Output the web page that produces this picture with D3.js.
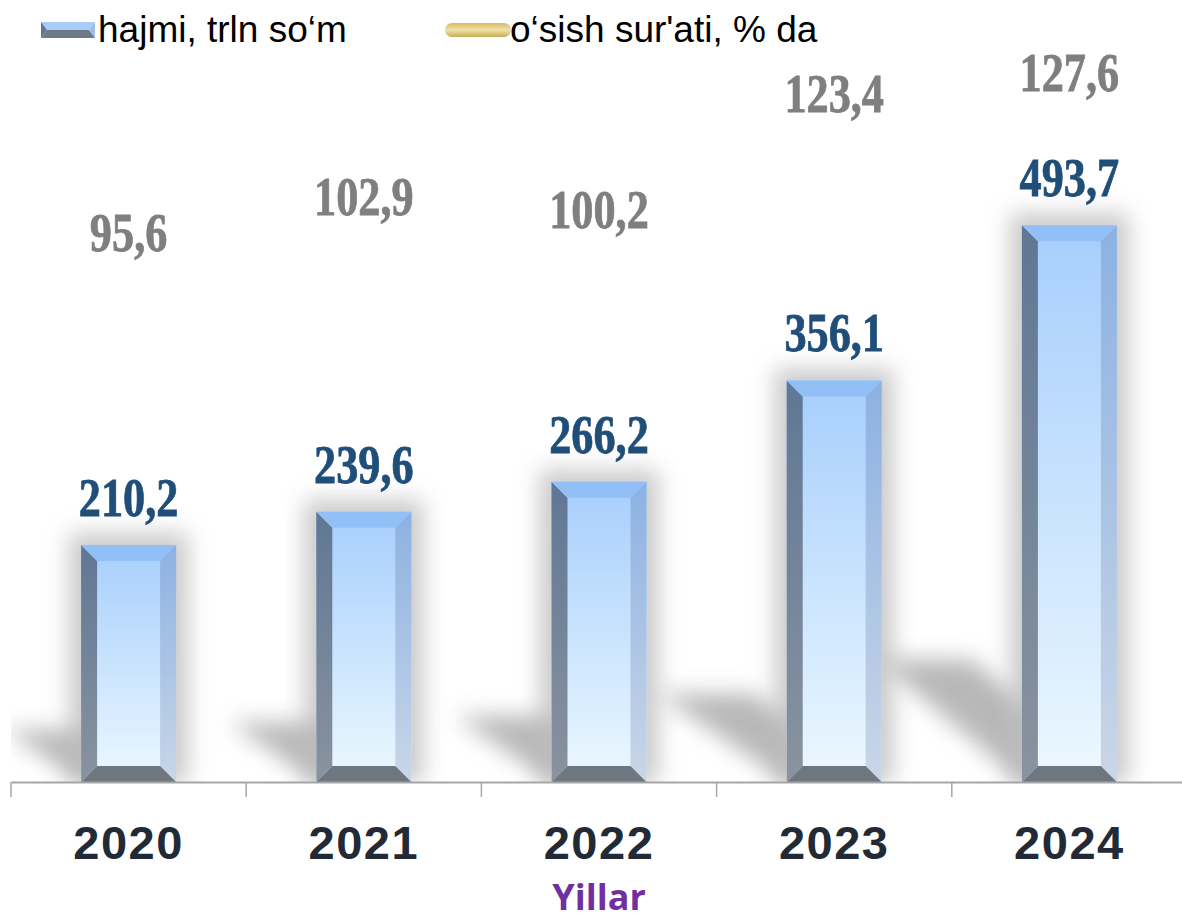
<!DOCTYPE html>
<html lang="uz">
<head>
<meta charset="UTF-8">
<title>hajmi, trln so'm</title>
<script src="https://cdn.jsdelivr.net/npm/d3@7"></script>
<style>
  html, body { margin: 0; padding: 0; background: #fff; }
  svg { display: block; }
</style>
</head>
<body>
<div id="chart"></div>
<script>
// chart data
var years = ["2020", "2021", "2022", "2023", "2024"];
var volume = [210.2, 239.6, 266.2, 356.1, 493.7];     // hajmi, trln so'm
var growth = [95.6, 102.9, 100.2, 123.4, 127.6];      // o'sish sur'ati, % da
var legendLabels = ["hajmi, trln so\u2018m", "o\u2018sish sur'ati, % da"];
var axisTitle = "Yillar";

var W = 1182, H = 923;
var base = 782;

var svg = d3.select("#chart").append("svg")
  .attr("width", W)
  .attr("height", H);

var defs = svg.append("defs");

// scales
var x = d3.scaleBand().domain(years).range([11, 1187]).paddingInner(0).paddingOuter(0);
var y = d3.scaleLinear().domain([0, 600]).range([base, base - 676.5]);
var yGrowth = d3.scaleLinear().domain([80, 140]).range([329, 29]);

var barW = 95, bev = 16;

// gradients
function vgrad(id, c1, c2) {
  var g = defs.append("linearGradient").attr("id", id)
    .attr("x1", 0).attr("y1", 0).attr("x2", 0).attr("y2", 1);
  g.append("stop").attr("offset", "0%").attr("stop-color", c1);
  g.append("stop").attr("offset", "100%").attr("stop-color", c2);
}
vgrad("face", "#a6cefc", "#ecf8ff");
vgrad("leftBev", "#5f7795", "#8a939f");
vgrad("rightBev", "#8cb1e2", "#c9d6e7");
var lg = defs.append("linearGradient").attr("id", "gold")
  .attr("x1", 0).attr("y1", 0).attr("x2", 0).attr("y2", 1);
lg.append("stop").attr("offset", "0%").attr("stop-color", "#d6bb62");
lg.append("stop").attr("offset", "50%").attr("stop-color", "#efe2a8");
lg.append("stop").attr("offset", "100%").attr("stop-color", "#c9ad55");

defs.append("filter").attr("id", "blurS")
  .attr("x", "-50%").attr("y", "-50%").attr("width", "200%").attr("height", "200%")
  .append("feGaussianBlur").attr("stdDeviation", 11);
defs.append("filter").attr("id", "blurG")
  .attr("x", "-50%").attr("y", "-50%").attr("width", "200%").attr("height", "200%")
  .append("feGaussianBlur").attr("stdDeviation", 11);

defs.append("clipPath").attr("id", "plotClip")
  .append("rect").attr("x", 11).attr("y", 0).attr("width", W).attr("height", base);

var plot = svg.append("g").attr("clip-path", "url(#plotClip)");

// cast shadows (behind bars, going back-left)
plot.append("g").selectAll("path")
  .data(volume)
  .enter().append("path")
  .attr("d", function(d, i) {
    var bx = x(years[i]) + (x.bandwidth() - barW) / 2;
    var h = base - y(d);
    var dx = -Math.min(0.32 * h, 145), dy = -0.22 * h;
    return "M" + bx + "," + base + "L" + (bx + barW) + "," + base +
      "L" + (bx + barW + dx) + "," + (base + dy) +
      "L" + (bx + dx) + "," + (base + dy) + "Z";
  })
  .attr("fill", "#a0a0a0")
  .attr("opacity", 0.75)
  .attr("filter", "url(#blurS)");

// glow halo around bars
plot.append("g").selectAll("rect")
  .data(volume)
  .enter().append("rect")
  .attr("x", (d, i) => x(years[i]) + (x.bandwidth() - barW) / 2 - 12)
  .attr("y", d => y(d) - 12)
  .attr("width", barW + 24)
  .attr("height", d => base - y(d) + 12)
  .attr("fill", "#bdbdbd")
  .attr("opacity", 0.8)
  .attr("filter", "url(#blurG)");

// bevelled bars
var bars = plot.append("g").selectAll("g")
  .data(volume)
  .enter().append("g")
  .attr("transform", (d, i) => "translate(" + (x(years[i]) + (x.bandwidth() - barW) / 2) + ",0)");

bars.append("rect")
  .attr("x", 0).attr("y", d => y(d))
  .attr("width", barW).attr("height", d => base - y(d))
  .attr("fill", "url(#face)");
bars.append("path") // left bevel
  .attr("d", d => "M0," + y(d) + "L" + bev + "," + (y(d) + bev) + "L" + bev + "," + (base - bev) + "L0," + base + "Z")
  .attr("fill", "url(#leftBev)");
bars.append("path") // right bevel
  .attr("d", d => "M" + barW + "," + y(d) + "L" + (barW - bev) + "," + (y(d) + bev) + "L" + (barW - bev) + "," + (base - bev) + "L" + barW + "," + base + "Z")
  .attr("fill", "url(#rightBev)");
bars.append("path") // top bevel
  .attr("d", d => "M0," + y(d) + "L" + barW + "," + y(d) + "L" + (barW - bev) + "," + (y(d) + bev) + "L" + bev + "," + (y(d) + bev) + "Z")
  .attr("fill", "#93bff7");
bars.append("path") // bottom bevel
  .attr("d", "M0," + base + "L" + barW + "," + base + "L" + (barW - bev) + "," + (base - bev) + "L" + bev + "," + (base - bev) + "Z")
  .attr("fill", "#6e7680");

// x axis
var xAxis = svg.append("g")
  .attr("transform", "translate(0," + base + ")")
  .call(d3.axisBottom(x).tickSize(0).tickFormat(""));
xAxis.select(".domain").attr("stroke", "#a6a6a6").attr("stroke-width", 2);
xAxis.selectAll(".tick").remove();
xAxis.selectAll(".sep")
  .data(d3.range(years.length + 1))
  .enter().append("line")
  .attr("class", "sep")
  .attr("x1", i => 11 + i * x.step()).attr("x2", i => 11 + i * x.step())
  .attr("y1", 0).attr("y2", 15)
  .attr("stroke", "#a6a6a6").attr("stroke-width", 1.5);

svg.append("g").selectAll("text")
  .data(years)
  .enter().append("text")
  .attr("x", d => x(d) + x.bandwidth() / 2)
  .attr("y", 859)
  .attr("text-anchor", "middle")
  .attr("font-family", "'Liberation Sans', Arial, sans-serif")
  .attr("font-weight", "bold")
  .attr("font-size", 47)
  .attr("letter-spacing", 1.5)
  .attr("fill", "#222a36")
  .text(d => d);

svg.append("text")
  .attr("x", 599).attr("y", 910)
  .attr("text-anchor", "middle")
  .attr("font-family", "'Open Sans', 'Liberation Sans', sans-serif")
  .attr("font-weight", "bold")
  .attr("font-size", 36)
  .attr("fill", "#7030a0")
  .text(axisTitle);

// data labels (condensed serif bold)
function fmt(v) { return d3.format(".1f")(v).replace(".", ","); }

svg.append("g").selectAll("text")
  .data(volume)
  .enter().append("text")
  .attr("transform", (d, i) => "translate(" + (x(years[i]) + x.bandwidth() / 2) + "," + (y(d) - 29) + ") scale(0.82,1)")
  .attr("text-anchor", "middle")
  .attr("font-family", "'Liberation Serif', 'Times New Roman', serif")
  .attr("font-weight", "bold")
  .attr("font-size", 54)
  .attr("stroke", "#1f4e79").attr("stroke-width", 0.8)
  .attr("fill", "#1f4e79")
  .text(fmt);

svg.append("g").selectAll("text")
  .data(growth)
  .enter().append("text")
  .attr("transform", (d, i) => "translate(" + (x(years[i]) + x.bandwidth() / 2) + "," + yGrowth(d) + ") scale(0.82,1)")
  .attr("text-anchor", "middle")
  .attr("font-family", "'Liberation Serif', 'Times New Roman', serif")
  .attr("font-weight", "bold")
  .attr("font-size", 54)
  .attr("stroke", "#7f7f7f").attr("stroke-width", 0.8)
  .attr("fill", "#7f7f7f")
  .text(fmt);

// legend
var leg = svg.append("g");
var sw = leg.append("g").attr("transform", "translate(41,22)");
sw.append("path").attr("d", "M0,0L54,0L48,8L6,8Z").attr("fill", "#a9cdf8");
sw.append("path").attr("d", "M6,8L48,8L54,16L0,16Z").attr("fill", "#6f7a88");
sw.append("path").attr("d", "M0,0L6,8L0,16Z").attr("fill", "#5f7795");
sw.append("path").attr("d", "M54,0L48,8L54,16Z").attr("fill", "#9fbde4");
leg.append("text")
  .attr("x", 98).attr("y", 42)
  .attr("font-family", "'Liberation Sans', Arial, sans-serif")
  .attr("font-size", 37)
  .attr("fill", "#000")
  .text(legendLabels[0]);
leg.append("rect")
  .attr("x", 445).attr("y", 23).attr("width", 66).attr("height", 14).attr("rx", 7)
  .attr("fill", "url(#gold)");
leg.append("text")
  .attr("x", 510).attr("y", 42)
  .attr("font-family", "'Liberation Sans', Arial, sans-serif")
  .attr("font-size", 37)
  .attr("fill", "#000")
  .text(legendLabels[1]);
</script>
</body>
</html>
